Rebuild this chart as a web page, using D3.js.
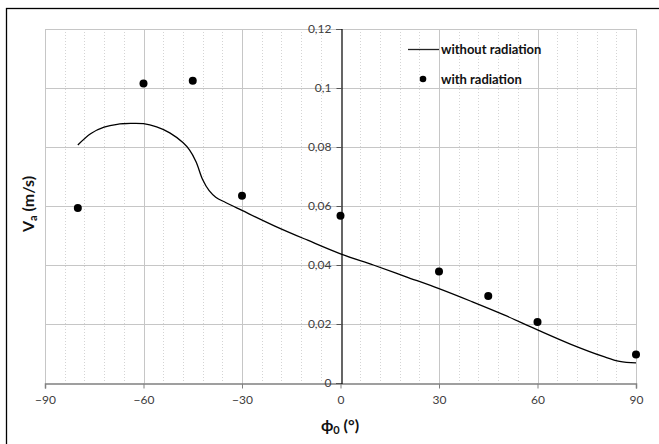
<!DOCTYPE html>
<html>
<head>
<meta charset="utf-8">
<script src="https://cdn.jsdelivr.net/npm/d3@7"></script>
<style>
html,body{margin:0;padding:0;background:#fff;}
svg{display:block;font-family:Lato,"Open Sans",sans-serif;}
</style>
</head>
<body>
<svg id="chart" width="659" height="444"></svg>
<script>
// Data
const lineX = [-80,-76,-72,-68,-64,-60,-56,-52,-48,-46,-44,-42,-40,-38,-35,-30,-20,-10,0,10,20,30,40,50,60,70,80,85,90];
const lineY = [0.0807,0.0846,0.0867,0.0877,0.0880,0.0879,0.0868,0.0848,0.0815,0.0790,0.0750,0.0690,0.0652,0.0630,0.0612,0.0585,0.0532,0.0484,0.0438,0.0400,0.0360,0.0320,0.0276,0.0230,0.0180,0.0132,0.0090,0.0073,0.0068];
const ptX = [-80,-60,-45,-30,0,30,45,60,90];
const ptY = [0.0593,0.1015,0.1025,0.0635,0.0567,0.0378,0.0295,0.0207,0.0097];
const xTicks = [-90,-60,-30,0,30,60,90];
const yTicks = [0,0.02,0.04,0.06,0.08,0.1,0.12];
const yTickLabels = ["0","0,02","0,04","0,06","0,08","0,1","0,12"];
const seriesNames = ["without radiation","with radiation"];

const svg = d3.select("#chart");
const L = 45, R = 636, T = 29, B = 383;
const x = d3.scaleLinear().domain([-90,90]).range([L,R]);
const y = d3.scaleLinear().domain([0,0.12]).range([B,T]);

// outer border
svg.append("rect").attr("x",6.5).attr("y",8.5).attr("width",700).attr("height",500)
  .attr("fill","none").attr("stroke","#000").attr("stroke-width",1.3);

// minor vertical gridlines
const minor = d3.range(-90,91,6).filter(v=>v%30!==0);
svg.append("g").selectAll("line").data(minor).join("line")
  .attr("x1",d=>Math.round(x(d))+0.5).attr("x2",d=>Math.round(x(d))+0.5)
  .attr("y1",T).attr("y2",B)
  .attr("stroke","#d4d4d4").attr("stroke-width",1).attr("stroke-dasharray","1,2");

// major vertical gridlines
svg.append("g").selectAll("line").data(xTicks.filter(v=>v!==0)).join("line")
  .attr("x1",d=>Math.round(x(d))+0.5).attr("x2",d=>Math.round(x(d))+0.5)
  .attr("y1",T).attr("y2",B)
  .attr("stroke","#c6c6c6").attr("stroke-width",1);

// horizontal gridlines
svg.append("g").selectAll("line").data(yTicks.filter(v=>v>0)).join("line")
  .attr("x1",L).attr("x2",R)
  .attr("y1",d=>Math.round(y(d))+0.5).attr("y2",d=>Math.round(y(d))+0.5)
  .attr("stroke","#c6c6c6").attr("stroke-width",1);

// x axis
const xAxis = d3.axisBottom(x).tickValues(xTicks).tickSize(5).tickPadding(7).tickFormat(d3.format("d"));
const gx = svg.append("g").attr("transform",`translate(0,${B+0.5})`).call(xAxis);
gx.select(".domain").attr("stroke","#808080").attr("stroke-width",1.5);
gx.selectAll(".tick line").attr("stroke","#808080");
gx.selectAll(".tick text").attr("font-size","12px").attr("fill","#404040").style("font-family","Lato,sans-serif");

// y axis at x=0
const yAxis = d3.axisLeft(y).tickValues(yTicks).tickSize(5).tickPadding(5).tickFormat((d,i)=>yTickLabels[i]);
const gy = svg.append("g").attr("transform",`translate(${Math.round(x(0))+0.5},0)`).call(yAxis);
gy.select(".domain").attr("stroke","#000").attr("stroke-width",1.2);
gy.selectAll(".tick line").attr("stroke","#555");
gy.selectAll(".tick text").attr("font-size","12px").attr("fill","#404040").style("font-family","Lato,sans-serif");

// line
const line = d3.line().x((d,i)=>x(lineX[i])).y(d=>y(d)).curve(d3.curveCatmullRom.alpha(0.5));
svg.append("path").datum(lineY).attr("d",line)
  .attr("fill","none").attr("stroke","#000").attr("stroke-width",1.3);

// points
svg.append("g").selectAll("circle").data(ptY).join("circle")
  .attr("cx",(d,i)=>x(ptX[i])).attr("cy",d=>y(d)).attr("r",4).attr("fill","#000");

// legend
const lg = svg.append("g");
lg.append("line").attr("x1",408).attr("x2",439).attr("y1",49.5).attr("y2",49.5).attr("stroke","#222").attr("stroke-width",1.3);
lg.append("text").attr("x",441).attr("y",54).text(seriesNames[0]).attr("font-size","13px").attr("font-weight","bold").attr("fill","#111");
lg.append("circle").attr("cx",423).attr("cy",79).attr("r",3.3).attr("fill","#000");
lg.append("text").attr("x",441).attr("y",84).text(seriesNames[1]).attr("font-size","13px").attr("font-weight","bold").attr("fill","#111");

// axis titles
const xt = svg.append("text").attr("x",340).attr("y",431).attr("text-anchor","middle")
  .attr("font-size","16px").attr("font-weight","bold").attr("fill","#111");
xt.append("tspan").text("ϕ");
xt.append("tspan").text("0").attr("font-size","11px").attr("dy",3);
xt.append("tspan").text(" (°)").attr("dy",-3);

const yt = svg.append("text").attr("transform","translate(34,204) rotate(-90)").attr("text-anchor","middle")
  .attr("font-size","16px").attr("font-weight","bold").attr("fill","#111");
yt.append("tspan").text("V");
yt.append("tspan").text("a").attr("font-size","11px").attr("dy",3);
yt.append("tspan").text(" (m/s)").attr("dy",-3);
</script>
</body>
</html>
